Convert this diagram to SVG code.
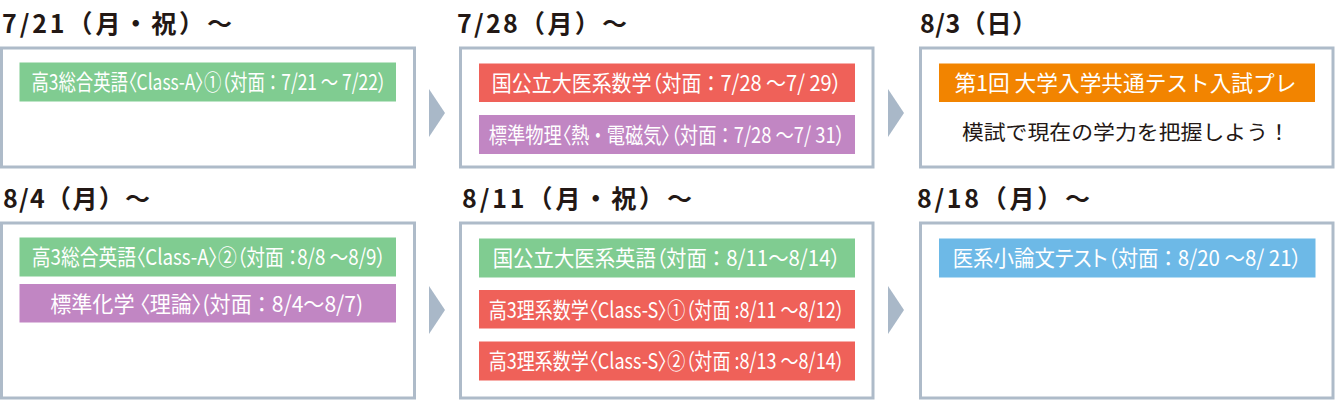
<svg xmlns="http://www.w3.org/2000/svg" width="1336" height="400" viewBox="0 0 1336 400">
<style>
.frame{fill:#fff;stroke:#aebbc9;stroke-width:3}
.head{font-family:"Noto Sans CJK JP","Noto Sans",sans-serif;font-weight:700;font-size:25px;fill:#231815}
.lbl{font-family:"Noto Sans CJK JP","Noto Sans",sans-serif;font-size:22px;fill:#fff;text-anchor:middle;font-feature-settings:"palt" 1}
.fw{font-feature-settings:normal}
.dark{fill:#231815;font-size:20.5px;font-feature-settings:normal}
.g{fill:#80cc91}.r{fill:#ef6159}.p{fill:#c186c3}.o{fill:#f28400}.b{fill:#6db9e7}
.arr{fill:#a9b8c8}
</style>
<rect width="1336" height="400" fill="#fff"/>
<g id="connectors">
<polygon class="arr" points="429,89 445,113 429,137"/>
<polygon class="arr" points="888,89 904,113 888,137"/>
<polygon class="arr" points="429,286 445,310 429,334"/>
<polygon class="arr" points="888,286 904,310 888,334"/>
</g>
<g id="week-0721">
<text class="head" x="2" y="33" textLength="230" lengthAdjust="spacing">7/21（月・祝）〜</text>
<rect class="frame" x="1.5" y="48" width="413" height="119"/>
<rect class="g" x="19.5" y="62.5" width="376.5" height="39"/>
<text class="lbl" x="209" y="89.5" textLength="355" lengthAdjust="spacingAndGlyphs">高3総合英語〈Class-A〉①（対面 ： 7/21 〜 7/22）</text>
</g>
<g id="week-0728">
<text class="head" x="457" y="33" textLength="170" lengthAdjust="spacing">7/28（月）〜</text>
<rect class="frame" x="460.5" y="48" width="412.5" height="119"/>
<rect class="r" x="479" y="63.5" width="376" height="38.5"/>
<text class="lbl" x="666.7" y="90.5" textLength="350" lengthAdjust="spacingAndGlyphs">国公立大医系数学（対面 ： 7/28 〜7/ 29）</text>
<rect class="p" x="479" y="115" width="376" height="39"/>
<text class="lbl" x="666.7" y="142.5" textLength="356" lengthAdjust="spacingAndGlyphs">標準物理〈熱 ・ 電磁気〉（対面 ： 7/28 〜7/ 31）</text>
</g>
<g id="week-0803">
<text class="head" x="920" y="33" textLength="117" lengthAdjust="spacing">8/3（日）</text>
<rect class="frame" x="920.5" y="48" width="412.5" height="119"/>
<rect class="o" x="939" y="63.5" width="376" height="38.5"/>
<text class="lbl fw" x="1125.4" y="90.5" textLength="342" lengthAdjust="spacingAndGlyphs">第1回 大学入学共通テスト入試プレ</text>
<text class="lbl dark" x="1125.9" y="140" textLength="328" lengthAdjust="spacingAndGlyphs">模試で現在の学力を把握しよう！</text>
</g>
<g id="week-0804">
<text class="head" x="3" y="208" textLength="147" lengthAdjust="spacing">8/4（月）〜</text>
<rect class="frame" x="1.5" y="223" width="413" height="175"/>
<rect class="g" x="19.5" y="237.5" width="376.5" height="39"/>
<text class="lbl" x="208.8" y="265" textLength="354" lengthAdjust="spacingAndGlyphs">高3総合英語〈Class-A〉②（対面 ：8/8 〜8/9）</text>
<rect class="p" x="19.5" y="284" width="376.5" height="38.5"/>
<text class="lbl" x="206.7" y="311.5" textLength="313" lengthAdjust="spacingAndGlyphs">標準化学 〈理論〉(対面 ： 8/4〜8/7)</text>
</g>
<g id="week-0811">
<text class="head" x="462" y="208" textLength="230" lengthAdjust="spacing">8/11（月・祝）〜</text>
<rect class="frame" x="460.5" y="223" width="412.5" height="175"/>
<rect class="g" x="479" y="238.5" width="376" height="39"/>
<text class="lbl" x="666.7" y="266" textLength="348" lengthAdjust="spacingAndGlyphs">国公立大医系英語（対面 ： 8/11〜8/14）</text>
<rect class="r" x="479" y="290" width="376" height="38.5"/>
<text class="lbl" x="666.7" y="317.5" textLength="356" lengthAdjust="spacingAndGlyphs">高3理系数学〈Class-S〉①（対面 :8/11 〜8/12）</text>
<rect class="r" x="479" y="341.5" width="376" height="39"/>
<text class="lbl" x="666.7" y="369" textLength="356" lengthAdjust="spacingAndGlyphs">高3理系数学〈Class-S〉②（対面 :8/13 〜8/14）</text>
</g>
<g id="week-0818">
<text class="head" x="917" y="208" textLength="173" lengthAdjust="spacing">8/18（月）〜</text>
<rect class="frame" x="920.5" y="223" width="412.5" height="175"/>
<rect class="b" x="939" y="238.5" width="376.5" height="39"/>
<text class="lbl" x="1127.2" y="266" textLength="349" lengthAdjust="spacingAndGlyphs">医系小論文テスト（対面 ： 8/20 〜8/ 21）</text>
</g>
</svg>
